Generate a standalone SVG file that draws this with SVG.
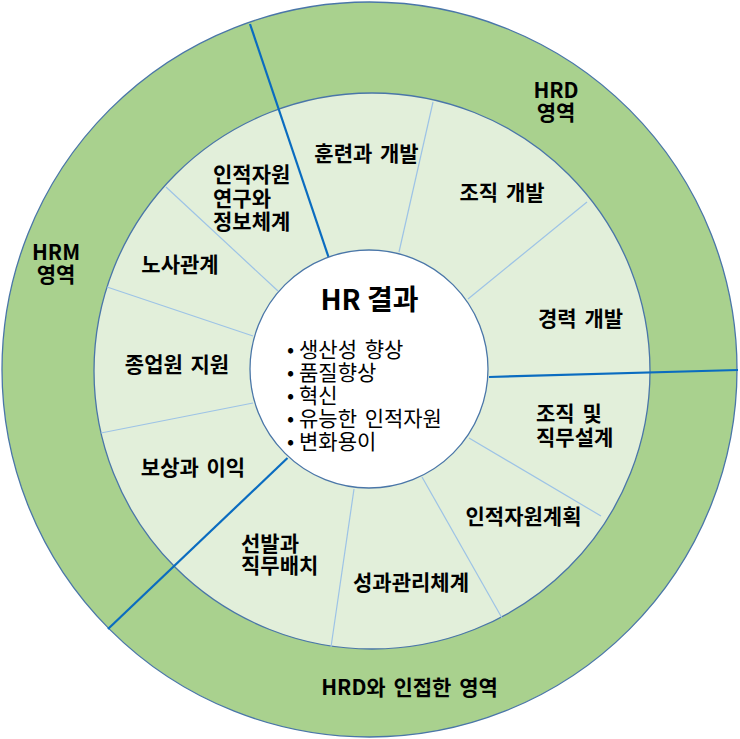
<svg xmlns="http://www.w3.org/2000/svg" width="740" height="739" viewBox="0 0 740 739">
<style>
text{font-family:"Noto Sans CJK KR","Noto Sans",sans-serif;fill:#000}
.lbl{font-size:21px;font-weight:bold;word-spacing:3px}
.mid{text-anchor:middle}
.bul{font-size:21px;word-spacing:3px}
.ring{stroke:#4A76A8;stroke-width:1.3}
.thick{stroke:#0A6CC0;stroke-width:2.2;fill:none}
.thin{stroke:#9DC3E6;stroke-width:1.2;fill:none}
</style>
<rect width="740" height="739" fill="#fff"/>
<g id="outer-ring">
<circle class="ring" cx="369.5" cy="369.5" r="367.5" fill="#A9D18E"/>
</g>
<g id="inner-ring">
<circle class="ring" cx="372" cy="371" r="278" fill="#E2EFDA"/>
</g>
<g id="connectors">
<line class="thin" x1="433" y1="102" x2="399" y2="252"/>
<line class="thin" x1="587" y1="202" x2="468" y2="299"/>
<line class="thin" x1="469" y1="438" x2="601" y2="516"/>
<line class="thin" x1="422" y1="477" x2="502" y2="618"/>
<line class="thin" x1="354" y1="489" x2="331" y2="647"/>
<line class="thin" x1="253" y1="403" x2="101" y2="433"/>
<line class="thin" x1="253" y1="336" x2="107" y2="287"/>
<line class="thin" x1="278" y1="291" x2="166" y2="187"/>
<line class="thick" x1="250" y1="24" x2="328.5" y2="257"/>
<line class="thick" x1="489" y1="377" x2="738" y2="370"/>
<line class="thick" x1="287.5" y1="458" x2="108" y2="629"/>
</g>
<g id="hr-result">
<circle class="ring" cx="369" cy="369" r="119" fill="#fff"/>
<text class="mid" x="369.5" y="309.5" style="font-size:28px;font-weight:bold">HR 결과</text>
<text class="bul"><tspan x="287" y="356.5">•</tspan><tspan x="299" y="356.5">생산성 향상</tspan><tspan x="287" y="379.7">•</tspan><tspan x="299" y="379.7">품질향상</tspan><tspan x="287" y="402.9">•</tspan><tspan x="299" y="402.9">혁신</tspan><tspan x="287" y="426.1">•</tspan><tspan x="299" y="426.1">유능한 인적자원</tspan><tspan x="287" y="449.3">•</tspan><tspan x="299" y="449.3">변화용이</tspan></text>
</g>
<g id="hrd-area"><text class="lbl mid"><tspan x="556" y="98">HRD</tspan><tspan x="556" y="120">영역</tspan></text></g>
<g id="hrm-area"><text class="lbl mid"><tspan x="56" y="260">HRM</tspan><tspan x="56" y="281.5">영역</tspan></text></g>
<g id="hrd-adjacent"><text class="lbl mid" x="409.5" y="695">HRD와 인접한 영역</text></g>
<g id="training"><text class="lbl mid" x="366.5" y="160.5">훈련과 개발</text></g>
<g id="org-dev"><text class="lbl mid" x="502" y="200">조직 개발</text></g>
<g id="career-dev"><text class="lbl mid" x="580.5" y="326">경력 개발</text></g>
<g id="org-job-design"><text class="lbl"><tspan x="536" y="420.5">조직 및</tspan><tspan x="536" y="444.5">직무설계</tspan></text></g>
<g id="hr-planning"><text class="lbl mid" x="523.5" y="524">인적자원계획</text></g>
<g id="performance"><text class="lbl mid" x="411" y="590">성과관리체계</text></g>
<g id="selection"><text class="lbl"><tspan x="241" y="550.5">선발과</tspan><tspan x="241" y="572.5">직무배치</tspan></text></g>
<g id="compensation"><text class="lbl mid" x="193" y="474.5">보상과 이익</text></g>
<g id="employee-support"><text class="lbl mid" x="177" y="371.5">종업원 지원</text></g>
<g id="labor-relations"><text class="lbl mid" x="180" y="271.5">노사관계</text></g>
<g id="hr-research"><text class="lbl"><tspan x="213" y="181.5">인적자원</tspan><tspan x="213" y="205.5">연구와</tspan><tspan x="213" y="228.5">정보체계</tspan></text></g>
</svg>
